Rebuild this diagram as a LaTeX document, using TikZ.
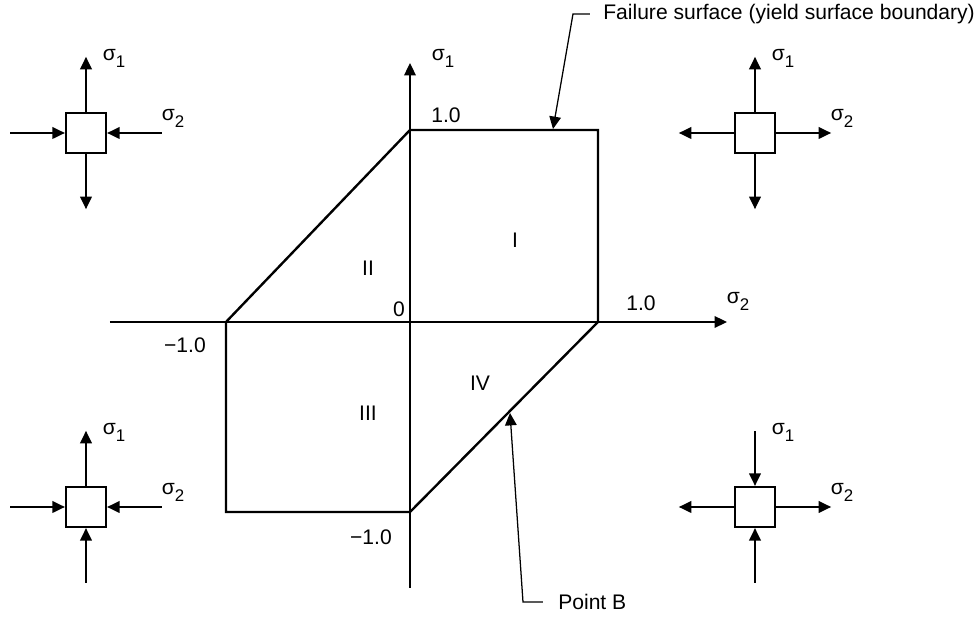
\documentclass[tikz,border=0pt]{standalone}
\usepackage{fontspec}
\setmainfont{Liberation Sans}
\usetikzlibrary{arrows.meta,positioning,calc}
\tikzset{
  axis/.style={line width=1.1pt,-{Triangle[length=3.1mm,width=2.9mm]}},
  surface/.style={line width=1.7pt,line join=miter},
  elem/.style={draw,line width=1.6pt,minimum size=10mm,inner sep=0pt},
  force/.style={line width=1.1pt},
  pullarrow/.style={-{Triangle[length=3.1mm,width=2.9mm]}},
  pusharrow/.style={{Triangle[length=3.1mm,width=2.9mm]}-},
  leader/.style={line width=0.9pt,-{Triangle[length=3.1mm,width=2.9mm]}},
  lbl/.style={inner sep=0pt,font=\fontsize{15}{18}\selectfont}
}
\newcommand{\sig}[1]{σ\raisebox{-0.33em}{\fontsize{12}{14}\selectfont #1}}

\begin{document}
\begin{tikzpicture}[x=0.25mm,y=0.25mm]
\useasboundingbox (-410,-295) rectangle (567,322);
% axes
\coordinate (xl) at (-300,0);
\coordinate (xr) at (317,0);
\coordinate (yb) at (0,-266);
\coordinate (yt) at (0,259);
\draw[axis] (xl) -- (xr);
\draw[axis] (yb) -- (yt);
% failure surface
\coordinate (A) at (0,192);
\coordinate (B) at (188,192);
\coordinate (C) at (188,0);
\coordinate (D) at (0,-190);
\coordinate (E) at (-184,-190);
\coordinate (F) at (-184,0);
\draw[surface] (A) -- (B) -- (C) -- (D) -- (E) -- (F) -- cycle;
% axis labels
\node[lbl] (zero) at (-11,13) {0};
\node[lbl] (top1) at (36,207) {1.0};
\node[lbl] (right1) at (231,19) {1.0};
\node[lbl] (left1) at (-225,-23) {−1.0};
\node[lbl] (bot1) at (-39,-215) {−1.0};
\node[lbl] (sig1) at (33,264) {\sig1};
\node[lbl] (sig2) at (328,21) {\sig2};
% regions
\node[lbl] (rI) at (105,82) {I};
\node[lbl] (rII) at (-42,54) {II};
\node[lbl] (rIII) at (-42,-91) {III};
\node[lbl] (rIV) at (70,-61) {IV};
% stress elements
\foreach \name/\cx/\cy/\nt/\st/\hz in {ul/-324/189/pullarrow/pullarrow/pusharrow,
    ur/345/189/pullarrow/pullarrow/pullarrow, ll/-324/-185/pullarrow/pusharrow/pusharrow,
    lr/345/-185/pusharrow/pusharrow/pullarrow}{
  \node[elem] (\name) at (\cx,\cy) {};
  \draw[force,\nt] (\name.north) -- ++(0,55);
  \draw[force,\st] (\name.south) -- ++(0,-55);
  \draw[force,\hz] (\name.east) -- ++(55,0);
  \draw[force,\hz] (\name.west) -- ++(-55,0);
  \node[lbl] (\name-s1) at ($(\name)+(28,75)$) {\sig1};
  \node[lbl] (\name-s2) at ($(\name)+(87,15)$) {\sig2};
}
% leaders
\node[lbl,anchor=west] (fail) at (193,308) {Failure surface (yield surface boundary)};
\coordinate (failtip) at (143,193);
\draw[leader] ([xshift=-3.25mm]fail.west) -- ++(-17,0) -- (failtip);
\node[lbl,anchor=west] (ptb) at (148,-280) {Point B};
\coordinate (btip) at (100,-91);
\draw[leader] ([xshift=-3.75mm]ptb.west) -- ++(-20,0) -- (btip);
\end{tikzpicture}
\end{document}
